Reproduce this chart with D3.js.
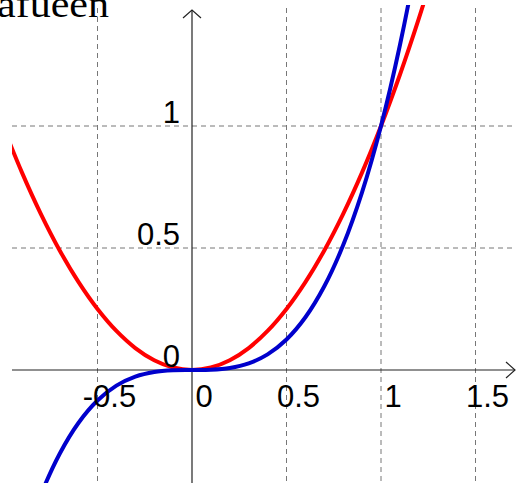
<!DOCTYPE html>
<html lang="en">
<head>
    <meta charset="UTF-8">
    <title>Graph</title>
    <style>
        body { margin: 0; background: #fff; }
        svg { display: block; }
    </style>
</head>
<body>
    <div id="graphic"></div>

    <script src="https://cdn.jsdelivr.net/npm/d3@7"></script>
    <script>
        var width = 516;
        var height = 483;

        // sample points
        var xs = [-1.0, -0.9, -0.8, -0.7, -0.6, -0.5, -0.4, -0.3, -0.2, -0.1, 0, 0.1, 0.2, 0.3, 0.4, 0.5, 0.6, 0.7, 0.8, 0.9, 1.0, 1.1, 1.2, 1.3];
        var redValues = [1.00, 0.81, 0.64, 0.49, 0.36, 0.25, 0.16, 0.09, 0.04, 0.01, 0, 0.01, 0.04, 0.09, 0.16, 0.25, 0.36, 0.49, 0.64, 0.81, 1.00, 1.21, 1.44, 1.69];
        var blueValues = [-1.000, -0.729, -0.512, -0.343, -0.216, -0.125, -0.064, -0.027, -0.008, -0.001, 0, 0.001, 0.008, 0.027, 0.064, 0.125, 0.216, 0.343, 0.512, 0.729, 1.000, 1.331, 1.728, 2.197];

        var gridX = [-0.5, 0.5, 1, 1.5];
        var gridY = [0.5, 1];
        var xLabels = ['-0.5', '0', '0.5', '1', '1.5'];
        var yLabels = ['0', '0.5', '1'];

        // note: "top" is taken by window.top, so use other names
        var plotLeft = 12, plotTop = 5;

        var x = d3.scaleLinear().domain([0, 1]).range([192, 381]);
        var y = d3.scaleLinear().domain([0, 1]).range([370, 126]);

        var svg = d3.select('#graphic')
            .append('svg')
            .attr('width', width)
            .attr('height', height);

        svg.append('defs').append('clipPath')
            .attr('id', 'plotclip')
            .append('rect')
            .attr('x', plotLeft).attr('y', plotTop)
            .attr('width', width - plotLeft).attr('height', height - plotTop);

        // dashed grid
        svg.selectAll('.gx')
            .data(gridX)
            .join('line')
            .attr('x1', d => x(d)).attr('x2', d => x(d))
            .attr('y1', plotTop + 3).attr('y2', height)
            .attr('stroke', '#777')
            .attr('stroke-width', 1)
            .attr('stroke-dasharray', '5,4');

        svg.selectAll('.gy')
            .data(gridY)
            .join('line')
            .attr('x1', plotLeft).attr('x2', width)
            .attr('y1', d => y(d)).attr('y2', d => y(d))
            .attr('stroke', '#777')
            .attr('stroke-width', 1)
            .attr('stroke-dasharray', '5,4');

        // axes
        var axisColor = '#222';
        svg.append('line')
            .attr('x1', plotLeft).attr('x2', width - 1)
            .attr('y1', y(0)).attr('y2', y(0))
            .attr('stroke', axisColor).attr('stroke-width', 1.2);
        svg.append('path')
            .attr('d', 'M' + (width - 10) + ',' + (y(0) - 8) + 'L' + (width - 1) + ',' + y(0) + 'L' + (width - 10) + ',' + (y(0) + 8))
            .attr('fill', 'none').attr('stroke', axisColor).attr('stroke-width', 1.2);

        svg.append('line')
            .attr('x1', x(0)).attr('x2', x(0))
            .attr('y1', height).attr('y2', plotTop + 5)
            .attr('stroke', axisColor).attr('stroke-width', 1.2);
        svg.append('path')
            .attr('d', 'M' + (x(0) - 9) + ',' + (plotTop + 13) + 'L' + x(0) + ',' + (plotTop + 5) + 'L' + (x(0) + 9) + ',' + (plotTop + 13))
            .attr('fill', 'none').attr('stroke', axisColor).attr('stroke-width', 1.2);

        // curves
        var line = d3.line()
            .x(d => x(d[0]))
            .y(d => y(d[1]))
            .curve(d3.curveCatmullRom);

        var plot = svg.append('g').attr('clip-path', 'url(#plotclip)');

        plot.append('path')
            .datum(xs.map((v, i) => [v, redValues[i]]))
            .attr('d', line)
            .attr('fill', 'none')
            .attr('stroke', '#ff0000')
            .attr('stroke-width', 4);

        plot.append('path')
            .datum(xs.map((v, i) => [v, blueValues[i]]))
            .attr('d', line)
            .attr('fill', 'none')
            .attr('stroke', '#0000cc')
            .attr('stroke-width', 4);

        // labels
        svg.selectAll('.xl')
            .data(xLabels)
            .join('text')
            .attr('x', d => x(+d) + 12)
            .attr('y', 407)
            .attr('text-anchor', 'middle')
            .attr('font-family', 'Liberation Sans, Arial, sans-serif')
            .attr('font-size', 31)
            .attr('fill', '#000')
            .text(d => d);

        svg.selectAll('.yl')
            .data(yLabels)
            .join('text')
            .attr('x', 180)
            .attr('y', d => y(+d) - 3)
            .attr('text-anchor', 'end')
            .attr('font-family', 'Liberation Sans, Arial, sans-serif')
            .attr('font-size', 31)
            .attr('fill', '#000')
            .text(d => d);

        // cut-off caption at the top left
        svg.append('text')
            .attr('x', -3)
            .attr('y', 17)
            .attr('font-family', 'Liberation Serif, Times New Roman, serif')
            .attr('font-size', 38)
            .attr('textLength', 112)
            .attr('lengthAdjust', 'spacingAndGlyphs')
            .attr('fill', '#000')
            .text('afueen');
    </script>
</body>
</html>
